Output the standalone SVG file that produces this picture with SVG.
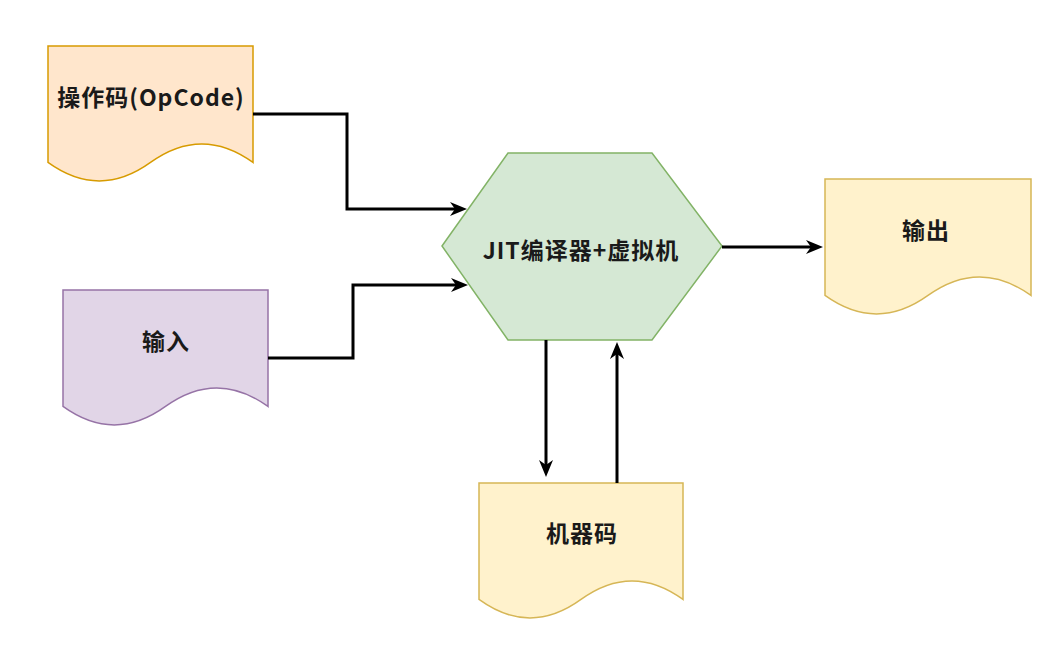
<svg xmlns="http://www.w3.org/2000/svg" width="1064" height="661" viewBox="0 0 1064 661">
<style>
.lbl{font-family:"Noto Sans CJK SC","Noto Sans",sans-serif;font-weight:bold;font-size:23px;letter-spacing:1px;fill:#1a1a1a;text-anchor:middle;dominant-baseline:central}
.shape{stroke-width:1.5}
.edge{fill:none;stroke:#000;stroke-width:3}
</style>
<defs>
<marker id="arr" markerUnits="userSpaceOnUse" markerWidth="18" markerHeight="16" viewBox="0 0 18 16" refX="5" refY="8" orient="auto">
<path d="M0,1 L17,8 L0,15 L5,8 Z" fill="#000"/>
</marker>
</defs>
<rect width="1064" height="661" fill="#fff"/>
<g id="opcode">
<path class="shape" d="M48,46 H253 V162.45 Q201.75,125.46 150.5,162.45 Q99.25,199.44 48,162.45 Z" fill="#ffe6cc" stroke="#d79b00"/>
<text class="lbl" x="151" y="96">操作码(OpCode)</text>
</g>
<g id="input">
<path class="shape" d="M63,290 H268 V406.45 Q216.75,369.46 165.5,406.45 Q114.25,443.44 63,406.45 Z" fill="#e1d5e7" stroke="#9673a6"/>
<text class="lbl" x="166" y="340">输入</text>
</g>
<g id="jit">
<path class="shape" d="M442,246 L508,153 H652 L722,246 L652,340 H508 Z" fill="#d5e8d4" stroke="#82b366"/>
<text class="lbl" x="581" y="249">JIT编译器+虚拟机</text>
</g>
<g id="output">
<path class="shape" d="M825,179 H1031 V295.45 Q979.5,258.46 928,295.45 Q876.5,332.44 825,295.45 Z" fill="#fff2cc" stroke="#d6b656"/>
<text class="lbl" x="926" y="229">输出</text>
</g>
<g id="machine">
<path class="shape" d="M479,483 H683 V599.45 Q632,562.46 581,599.45 Q530,636.44 479,599.45 Z" fill="#fff2cc" stroke="#d6b656"/>
<text class="lbl" x="582" y="532">机器码</text>
</g>
<g id="connectors">
<path class="edge" d="M253,114 H347 V209 H455" marker-end="url(#arr)"/>
<path class="edge" d="M268,358 H353 V285 H456" marker-end="url(#arr)"/>
<path class="edge" d="M722,247 H811" marker-end="url(#arr)"/>
<path class="edge" d="M546,340 V465" marker-end="url(#arr)"/>
<path class="edge" d="M617,483 V354" marker-end="url(#arr)"/>
</g>
</svg>
